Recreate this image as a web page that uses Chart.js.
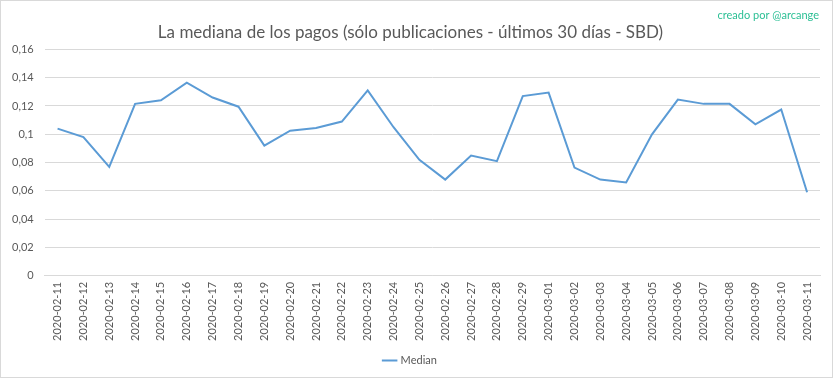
<!DOCTYPE html>
<html>
<head>
<meta charset="utf-8">
<script src="https://cdn.jsdelivr.net/npm/chart.js@4/dist/chart.umd.min.js"></script>
<style>
  html, body { margin: 0; padding: 0; background: #fff; }
  #wrap { position: relative; width: 831px; height: 376px; border: 1px solid #d9d9d9; }
</style>
</head>
<body>
<div id="wrap"><canvas id="medianChart"></canvas></div>
<script>
const dates = ['2020-02-11', '2020-02-12', '2020-02-13', '2020-02-14', '2020-02-15', '2020-02-16',
  '2020-02-17', '2020-02-18', '2020-02-19', '2020-02-20', '2020-02-21', '2020-02-22', '2020-02-23',
  '2020-02-24', '2020-02-25', '2020-02-26', '2020-02-27', '2020-02-28', '2020-02-29', '2020-03-01',
  '2020-03-02', '2020-03-03', '2020-03-04', '2020-03-05', '2020-03-06', '2020-03-07', '2020-03-08',
  '2020-03-09', '2020-03-10', '2020-03-11'];
const median = [0.104, 0.098, 0.077, 0.1215, 0.124, 0.1365, 0.126, 0.1195, 0.092, 0.1025,
  0.1045, 0.109, 0.131, 0.105, 0.082, 0.068, 0.085, 0.081, 0.127, 0.1295,
  0.0765, 0.068, 0.066, 0.1, 0.1245, 0.1215, 0.1215, 0.107, 0.1175, 0.059];
const yTicks = [0, 0.02, 0.04, 0.06, 0.08, 0.1, 0.12, 0.14, 0.16];

const grey = '#595959';
const font = "Lato, 'Open Sans', sans-serif";

// "creado por @arcange" in the top right corner
const creditPlugin = {
  id: 'credit',
  afterDraw(chart) {
    const ctx = chart.ctx;
    ctx.save();
    ctx.font = '11px ' + font;
    ctx.fillStyle = '#2bbf94';
    ctx.textAlign = 'right';
    ctx.textBaseline = 'middle';
    ctx.fillText('creado por @arcange', chart.width - 13, 14);
    ctx.restore();
  }
};

new Chart(document.getElementById('medianChart'), {
  type: 'line',
  data: {
    labels: dates,
    datasets: [{
      label: 'Median',
      data: median,
      borderColor: '#5b9bd5',
      backgroundColor: '#5b9bd5',
      borderWidth: 2,
      pointRadius: 0,
      tension: 0
    }]
  },
  plugins: [creditPlugin],
  options: {
    responsive: true,
    maintainAspectRatio: false,
    animation: false,
    layout: { padding: { left: 0, right: 12, top: 4, bottom: 1 } },
    plugins: {
      title: {
        display: true,
        text: 'La mediana de los pagos (sólo publicaciones - últimos 30 días - SBD)',
        color: grey,
        font: { family: font, size: 17, weight: 'normal' },
        padding: { top: 17, bottom: 7 }
      },
      legend: {
        position: 'bottom',
        labels: {
          color: grey,
          font: { family: font, size: 11 },
          usePointStyle: true,
          pointStyle: 'line',
          boxWidth: 30,
          padding: 8
        }
      },
      tooltip: { enabled: false }
    },
    scales: {
      x: {
        offset: true,
        grid: { display: false, drawTicks: false },
        border: { color: '#d9d9d9' },
        ticks: {
          color: grey,
          font: { family: font, size: 11 },
          minRotation: 90,
          maxRotation: 90,
          autoSkip: false,
          padding: 6
        }
      },
      y: {
        min: 0,
        max: 0.16,
        afterBuildTicks(axis) {
          axis.ticks = yTicks.map(v => ({ value: v }));
        },
        grid: { color: '#d9d9d9', drawTicks: false },
        border: { display: false },
        ticks: {
          color: grey,
          font: { family: font, size: 11 },
          padding: 11,
          callback: function(value) {
            return String(value).replace('.', ',');
          }
        }
      }
    }
  }
});
</script>
</body>
</html>
